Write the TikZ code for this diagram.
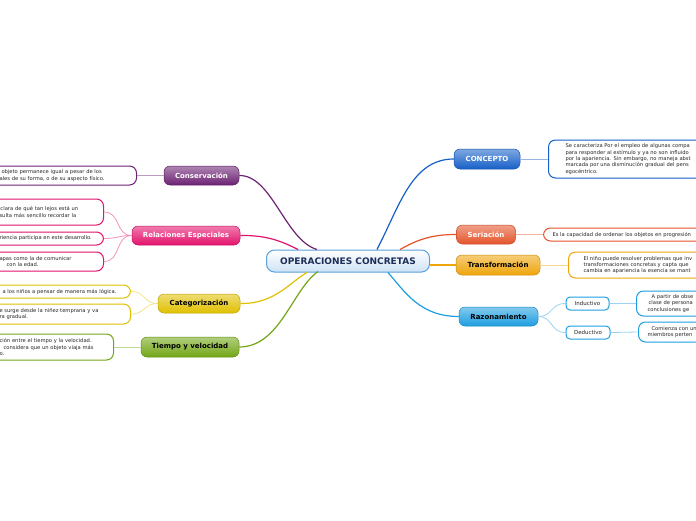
\documentclass[tikz,border=0pt]{standalone}
\usepackage{fontspec}
\setmainfont{DejaVu Sans}
\usetikzlibrary{calc}
\definecolor{cblue}{HTML}{1660C8}
\definecolor{cred}{HTML}{E5532A}
\definecolor{camber}{HTML}{EEA50A}
\definecolor{ccyan}{HTML}{1E9EE0}
\definecolor{cpurple}{HTML}{6B2272}
\definecolor{cpink}{HTML}{E3126C}
\definecolor{cyellow}{HTML}{E0C000}
\definecolor{cgreen}{HTML}{72A616}
\definecolor{ctrb}{HTML}{5AA0DC}
\definecolor{ctrtxt}{HTML}{1C2E5A}
\begin{document}
\begin{tikzpicture}[x=1pt,y=-1pt,
  branch/.style={rounded corners=6pt, minimum height=19pt, inner sep=0pt,
    font=\fontsize{7}{8}\selectfont\bfseries, draw=#1!85!black, line width=0.5pt,
    top color=#1!55!white, bottom color=#1},
  tbox/.style={draw=#1, line width=1pt, rounded corners=7pt, fill=white, align=left,
    font=\fontsize{5.2}{6.3}\selectfont, text=black!85, inner ysep=2pt, anchor=west},
  lbox/.style={draw=#1, line width=1pt, rounded corners=7pt, fill=white, align=left,
    font=\fontsize{5.2}{6.3}\selectfont, text=black!85, inner ysep=2pt, inner xsep=10pt, anchor=east},
  sbox/.style={draw=#1, line width=1pt, rounded corners=4pt, fill=white, inner sep=0pt,
    minimum height=13pt, font=\fontsize{5.5}{6}\selectfont, text=black!85},
  mainlink/.style={draw=#1, line width=1.2pt},
  sublink/.style={draw=#1!45!white, line width=0.8pt}
]
\useasboundingbox (0,0) rectangle (696,520);
\clip (0,0) rectangle (696,520);

% central node
\node[rounded corners=8pt, minimum width=163pt, minimum height=22pt, draw=ctrb, line width=1pt,
  top color=white, bottom color=ctrb!30!white, text=ctrtxt,
  font=\fontsize{9}{10}\selectfont\bfseries] (ctr) at (348,261) {OPERACIONES CONCRETAS};

% right branches
\node[branch=cblue, minimum width=66pt, minimum height=20pt, text=white] (con) at (487,159) {CONCEPTO};
\node[branch=cred, minimum width=59pt, text=white] (ser) at (486,234.5) {Seriación};
\node[branch=camber, minimum width=84pt, minimum height=20pt, text=black] (tra) at (498,265) {Transformación};
\node[branch=ccyan, minimum width=79pt, text=black] (raz) at (498.5,316.5) {Razonamiento};
\node[sbox=ccyan, minimum width=43pt] (ind) at (587.5,303.5) {Inductivo};
\node[sbox=ccyan, minimum width=44pt] (ded) at (588,332.5) {Deductivo};

% left branches
\node[branch=cpurple, minimum width=75pt, text=white] (cons) at (201.5,175.5) {Conservación};
\node[branch=cpink, minimum width=108pt, text=white] (rel) at (186,235.5) {Relaciones Especiales};
\node[branch=cyellow, minimum width=82pt, text=black] (cat) at (199,303.5) {Categorización};
\node[branch=cgreen, minimum width=98pt, minimum height=20pt, text=black] (tie) at (190,347) {Tiempo y velocidad};

% right text boxes
\node[tbox=cblue, inner xsep=17pt, minimum height=38pt, text width=200pt] (tcon) at (548,159)
  {Se caracteriza Por el empleo de algunas compa\\para responder al estímulo y ya no son influido\\por la apariencia. Sin embargo, no maneja abst\\marcada por una disminución gradual del pens\\egocéntrico.};
\node[tbox=cred, inner xsep=9pt, minimum height=13pt, text width=200pt] (tser) at (543,234.5)
  {Es la capacidad de ordenar los objetos en progresión};
\node[tbox=camber, inner xsep=15pt, minimum height=26pt, text width=200pt] (ttra) at (568,265)
  {El niño puede resolver problemas que inv\\transformaciones concretas y capta que\\cambia en apariencia la esencia se mant};
\node[tbox=ccyan, inner xsep=11pt, minimum height=25pt, text width=120pt] (tind) at (636,303.5)
  {\hspace*{4pt}A partir de obse\\\hspace*{1pt}clase de persona\\conclusiones ge};
\node[tbox=ccyan, inner xsep=9pt, minimum height=20pt, text width=120pt] (tded) at (638,332)
  {\hspace*{4pt}Comienza con un\\miembros perten};

% left text boxes
\node[lbox=cpurple, text width=127pt, minimum height=19pt] (tcons) at (137,175.5)
  {\hspace*{2pt}objeto permanece igual a pesar de los\\ales de su forma, o de su aspecto físico.};
\node[lbox=cpink, text width=94pt, minimum height=26pt] (trel1) at (104,212)
  {\hspace*{1pt}clara de qué tan lejos está un\\sulta más sencillo recordar la\\[4pt]};
\node[lbox=cpink, text width=94pt, minimum height=13pt] (trel2) at (104,238.5)
  {riencia participa en este desarrollo.};
\node[lbox=cpink, text width=94pt, minimum height=19pt] (trel3) at (104,261.5)
  {apas como la de comunicar\\\hspace*{7pt}con la edad.};
\node[lbox=cyellow, text width=121pt, minimum height=13pt] (tcat1) at (131,291.5)
  {\hspace*{3pt}a los niños a pensar de manera más lógica.};
\node[lbox=cyellow, text width=121pt, minimum height=20pt] (tcat2) at (131,314)
  {e surge desde la niñez temprana y va\\ra gradual.};
\node[lbox=cgreen, text width=104pt, minimum height=26pt] (ttie) at (114,347)
  {ción entre el tiempo y la velocidad.\\\hspace*{4pt}considera que un objeto viaja más\\o.};

% main links
\draw[mainlink=cpurple] ($(ctr.north)+(-31,0)$) .. controls (285,240) and (272,175) .. (cons.east);
\draw[mainlink=cpink] ($(ctr.north)+(-50,0)$) .. controls (283,242) and (268,235) .. (rel.east);
\draw[mainlink=cyellow] ($(ctr.south)+(-41,0)$) .. controls (290,282) and (275,304) .. (cat.east);
\draw[mainlink=cgreen] ($(ctr.south)+(-30,-1)$) .. controls (292,290) and (280,347) .. (tie.east);
\draw[mainlink=cblue] ($(ctr.north)+(29,0)$) .. controls (400,205) and (412,159) .. (con.west);
\draw[mainlink=cred] ($(ctr.north)+(52,0)$) .. controls (420,238) and (435,234.5) .. (ser.west);
\draw[mainlink=camber] (ctr.east |- tra.west) -- (tra.west);
\draw[mainlink=ccyan] ($(ctr.south)+(40,0)$) .. controls (405,292) and (420,316.5) .. (raz.west);

% sub links
\draw[sublink=cpurple] (cons.west) -- (tcons.east);
\draw[sublink=cpink] (rel.west) .. controls (115,235.5) and (121,212) .. (trel1.east);
\draw[sublink=cpink] (rel.west) .. controls (118,235.5) and (118,238.5) .. (trel2.east);
\draw[sublink=cpink] (rel.west) .. controls (115,235.5) and (121,261.5) .. (trel3.east);
\draw[sublink=cyellow] (cat.west) .. controls (143,303.5) and (146,291.5) .. (tcat1.east);
\draw[sublink=cyellow] (cat.west) .. controls (143,303.5) and (146,314) .. (tcat2.east);
\draw[sublink=cgreen] (tie.west) -- (ttie.east);
\draw[sublink=cblue] (con.east) -- (tcon.west);
\draw[sublink=cred] (ser.east) -- (tser.west);
\draw[sublink=camber] (tra.east) -- (ttra.west);
\draw[sublink=ccyan] (raz.east) .. controls (553,316.5) and (550,303.5) .. (ind.west);
\draw[sublink=ccyan] (raz.east) .. controls (553,316.5) and (550,332.5) .. (ded.west);
\draw[sublink=ccyan] (ind.east) -- (tind.west);
\draw[sublink=ccyan] (ded.east) -- (tded.west);
\end{tikzpicture}
\end{document}
